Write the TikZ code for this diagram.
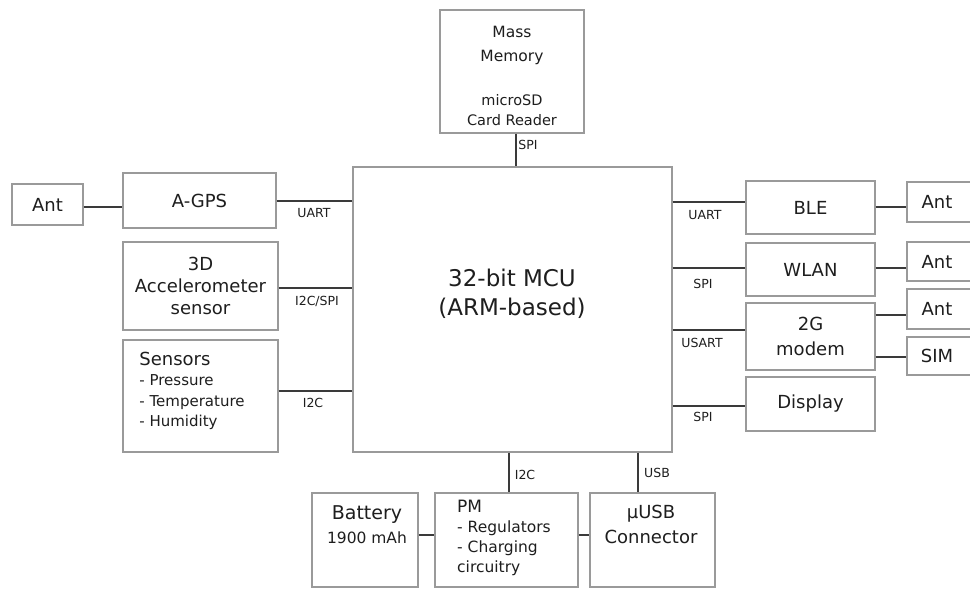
\documentclass[tikz,border=0pt]{standalone}
\usepackage{fontspec}
\setmainfont{DejaVu Sans}
\definecolor{boxgray}{HTML}{9A9A9A}
\definecolor{linegray}{HTML}{3A3A3A}
\definecolor{txt}{HTML}{1E1E1E}
\tikzset{
  box/.style={draw=boxgray, line width=1.4pt, inner sep=0pt, text=txt, align=center},
  conn/.style={draw=linegray, line width=1.9pt},
  txtnode/.style={inner sep=0pt, text=txt},
  lbl/.style={inner sep=0pt, text=txt, font=\fontsize{12.5}{13}\selectfont},
  fbig/.style={font=\fontsize{23}{29}\selectfont},
  fmed/.style={font=\fontsize{18}{22}\selectfont},
}
\begin{document}
\begin{tikzpicture}[x=1pt,y=-1pt]
\clip (0,0) rectangle (970,590);
\fill[white] (0,0) rectangle (970,590);
% boxes
\node[box, minimum width=144pt, minimum height=123pt] (mem) at (512,71.5) {};
\node[box, minimum width=319pt, minimum height=285pt] (mcu) at (512.5,309.5) {};
\node[box, fmed, minimum width=153pt, minimum height=55pt] (agps) at (199.5,200.5) {A-GPS};
\node[box, fmed, minimum width=71pt, minimum height=41pt] (antL) at (47.5,204.5) {Ant};
\node[box, fmed, minimum width=155pt, minimum height=88pt] (accel) at (200.5,286) {3D\\Accelerometer\\sensor};
\node[box, minimum width=155pt, minimum height=112pt] (sens) at (200.5,396) {};
\node[box, fmed, minimum width=129pt, minimum height=53pt] (ble) at (810.5,207.5) {BLE};
\node[box, fmed, minimum width=129pt, minimum height=53pt] (wlan) at (810.5,269.5) {WLAN};
\node[box, font=\fontsize{18}{25}\selectfont, minimum width=129pt, minimum height=67pt] (modem) at (810.5,336.5) {2G\\modem};
\node[box, fmed, minimum width=129pt, minimum height=54pt] (disp) at (810.5,404) {Display};
\node[box, minimum width=73pt, minimum height=40pt] (ant1) at (943.5,202) {};
\node[box, minimum width=73pt, minimum height=39pt] (ant2) at (943.5,261.5) {};
\node[box, minimum width=73pt, minimum height=40pt] (ant3) at (943.5,309) {};
\node[box, minimum width=73pt, minimum height=38pt] (sim) at (943.5,356) {};
\node[box, minimum width=106pt, minimum height=94pt] (bat) at (365,540) {};
\node[box, minimum width=143pt, minimum height=94pt] (pm) at (506.5,540) {};
\node[box, minimum width=125pt, minimum height=94pt] (usb) at (652.5,540) {};
% texts
\node[txtnode, font=\fontsize{15.5}{24}\selectfont, align=center] (memt1) at (512,45) {Mass\\Memory};
\node[txtnode, font=\fontsize{14.5}{20}\selectfont, align=center] (memt2) at (512,110) {microSD\\Card Reader};
\node[txtnode, fbig, align=center] (mcut) at (512,294) {32-bit MCU\\(ARM-based)};
\node[txtnode, align=left, font=\fontsize{15}{20.5}\selectfont] (senst) at (192,391) {{\fontsize{18}{20.5}\selectfont Sensors}\\- Pressure\\- Temperature\\- Humidity};
\node[txtnode, fmed] (ant1t) at (937,202) {Ant};
\node[txtnode, fmed] (ant2t) at (937,261.5) {Ant};
\node[txtnode, fmed] (ant3t) at (937,309) {Ant};
\node[txtnode, fmed] (simt) at (937,356) {SIM};
\node[txtnode, align=center, font=\fontsize{15.5}{24}\selectfont] (batt) at (367,525) {{\fontsize{19}{24}\selectfont Battery}\\1900 mAh};
\node[txtnode, align=left, font=\fontsize{15.5}{20}\selectfont] (pmt) at (504,538) {{\fontsize{17}{20}\selectfont PM}\\- Regulators\\- Charging\\circuitry};
\node[txtnode, align=center, font=\fontsize{18}{25}\selectfont] (usbt) at (651,524.5) {µUSB\\Connector};
% connectors
\draw[conn] (mem.south -| 516,0) -- (mcu.north -| 516,0);
\draw[conn] (antL.east |- 0,207) -- (agps.west |- 0,207);
\draw[conn] (agps.east |- 0,201) -- (mcu.west |- 0,201);
\draw[conn] (accel.east |- 0,288) -- (mcu.west |- 0,288);
\draw[conn] (sens.east |- 0,391) -- (mcu.west |- 0,391);
\draw[conn] (mcu.east |- 0,202) -- (ble.west |- 0,202);
\draw[conn] (mcu.east |- 0,268) -- (wlan.west |- 0,268);
\draw[conn] (mcu.east |- 0,330) -- (modem.west |- 0,330);
\draw[conn] (mcu.east |- 0,406) -- (disp.west |- 0,406);
\draw[conn] (ble.east |- 0,207) -- (ant1.west |- 0,207);
\draw[conn] (wlan.east |- 0,268) -- (ant2.west |- 0,268);
\draw[conn] (modem.east |- 0,315) -- (ant3.west |- 0,315);
\draw[conn] (modem.east |- 0,357) -- (sim.west |- 0,357);
\draw[conn] (mcu.south -| 509,0) -- (pm.north -| 509,0);
\draw[conn] (mcu.south -| 638,0) -- (usb.north -| 638,0);
\draw[conn] (bat.east |- 0,535) -- (pm.west |- 0,535);
\draw[conn] (pm.east |- 0,535) -- (usb.west |- 0,535);
% labels
\node[lbl] (l1) at (528,145) {SPI};
\node[lbl] (l2) at (314,213) {UART};
\node[lbl] (l3) at (317,301) {I2C/SPI};
\node[lbl] (l4) at (313,403) {I2C};
\node[lbl] (l5) at (705,215) {UART};
\node[lbl] (l6) at (703,284) {SPI};
\node[lbl] (l7) at (702,343) {USART};
\node[lbl] (l8) at (703,417) {SPI};
\node[lbl] (l9) at (525,475) {I2C};
\node[lbl] (l10) at (657,473) {USB};
\end{tikzpicture}
\end{document}
